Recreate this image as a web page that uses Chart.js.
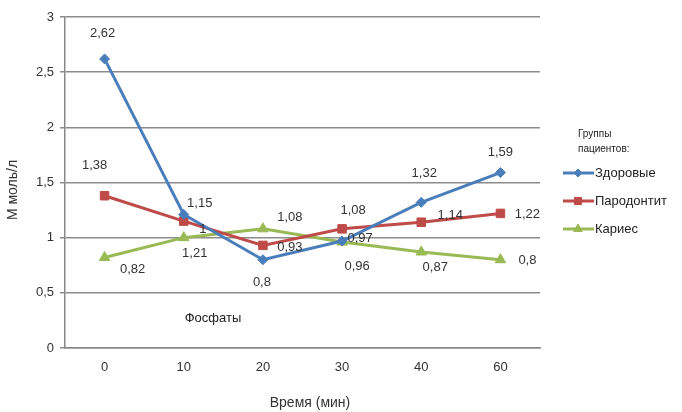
<!DOCTYPE html>
<html>
<head>
<meta charset="utf-8">
<script src="https://cdn.jsdelivr.net/npm/chart.js@4/dist/chart.umd.min.js"></script>
<style>
  html, body { margin: 0; padding: 0; background: #fff; }
  #wrap { width: 682px; height: 412px; position: relative; }
</style>
</head>
<body>
<div id="wrap"><canvas id="c" width="682" height="412"></canvas></div>
<script>
// Time points (minutes)
const categories = ['0', '10', '20', '30', '40', '60'];
// Phosphate concentration, mmol/l, per patient group
const healthy = [2.62, 1.21, 0.8, 0.97, 1.32, 1.59];
const periodontitis = [1.38, 1.15, 0.93, 1.08, 1.14, 1.22];
const caries = [0.82, 1.0, 1.08, 0.96, 0.87, 0.8];
const seriesNames = ['Здоровые', 'Пародонтит', 'Кариес'];
const yTicks = [0, 0.5, 1, 1.5, 2, 2.5, 3];

const FONT = '"Liberation Sans", Arial, sans-serif';
const fmt = v => String(v).replace('.', ',');

// where each value label sits relative to its point (px)
const labelOffsets = [
  [[-2, -26], [11, 39], [-1, 23], [18, -3], [3, -29], [0, -20]],
  [[-10, -30], [16, -18], [27, 2], [11, -18], [29, -7], [27, 1]],
  [[28, 12], [19, -8], [27, -11], [15, 24], [14, 15], [27, 1]]
];

const colors = ['#4a7ebb', '#be4b48', '#98b954'];
const styles = ['rectRot', 'rect', 'triangle'];
const radii = [5, 6, 6];

const datasets = [healthy, periodontitis, caries].map((d, i) => ({
  label: seriesNames[i],
  data: d,
  borderColor: colors[i],
  backgroundColor: colors[i],
  borderWidth: 3,
  pointStyle: styles[i],
  pointRadius: radii[i],
  pointHoverRadius: radii[i],
  pointBorderWidth: 1,
  tension: 0
}));

const valueLabels = {
  id: 'valueLabels',
  afterDatasetsDraw(chart) {
    const ctx = chart.ctx;
    ctx.save();
    ctx.font = '13px ' + FONT;
    ctx.fillStyle = '#333';
    ctx.textAlign = 'center';
    ctx.textBaseline = 'middle';
    chart.data.datasets.forEach((ds, i) => {
      chart.getDatasetMeta(i).data.forEach((pt, j) => {
        const o = labelOffsets[i][j];
        ctx.fillText(fmt(ds.data[j]), pt.x + o[0], pt.y + o[1]);
      });
    });
    // caption inside the plot
    ctx.fillStyle = '#222';
    ctx.fillText('Фосфаты', 213, 318);
    // axis titles
    ctx.fillStyle = '#333';
    ctx.font = '14px ' + FONT;
    ctx.fillText('Время (мин)', 310, 403);
    ctx.save();
    ctx.translate(13, 190);
    ctx.rotate(-Math.PI / 2);
    ctx.fillText('М моль/л', 0, 0);
    ctx.restore();
    ctx.restore();
  }
};

const sideLegend = {
  id: 'sideLegend',
  afterDraw(chart) {
    const ctx = chart.ctx;
    ctx.save();
    ctx.fillStyle = '#222';
    ctx.textAlign = 'left';
    ctx.textBaseline = 'middle';
    ctx.font = '10px ' + FONT;
    ctx.fillText('Группы', 578, 134);
    ctx.fillText('пациентов:', 578, 149);
    chart.data.datasets.forEach((ds, i) => {
      const y = 173 + i * 28;
      ctx.strokeStyle = ds.borderColor;
      ctx.lineWidth = 3;
      ctx.beginPath();
      ctx.moveTo(563, y);
      ctx.lineTo(594, y);
      ctx.stroke();
      ctx.fillStyle = ds.borderColor;
      ctx.lineWidth = 1;
      Chart.helpers.drawPoint(ctx, {
        pointStyle: ds.pointStyle, radius: ds.pointRadius - 1, borderWidth: 1
      }, 578, y);
      ctx.fillStyle = '#222';
      ctx.font = '13px ' + FONT;
      ctx.fillText(ds.label, 595, y);
    });
    ctx.restore();
  }
};

new Chart(document.getElementById('c'), {
  type: 'line',
  data: { labels: categories, datasets },
  options: {
    responsive: false,
    animation: false,
    layout: { padding: { left: 0, right: 142, top: 17, bottom: 0 } },
    plugins: { legend: { display: false }, tooltip: { enabled: false } },
    scales: {
      x: {
        offset: true,
        grid: { display: false, drawOnChartArea: false, offset: true, drawTicks: true, tickLength: 6, color: '#888' },
        border: { display: true, color: '#888', width: 1.5 },
        ticks: { color: '#333', font: { size: 13, family: FONT }, padding: 6 },
        afterFit(s) { s.height = 64; }
      },
      y: {
        min: 0, max: 3,
        afterBuildTicks(s) { s.ticks = yTicks.map(v => ({ value: v })); },
        grid: { color: '#8c8c8c', lineWidth: 1.5, drawTicks: true, tickLength: 5 },
        border: { display: true, color: '#888', width: 1.5 },
        ticks: { color: '#333', font: { size: 13, family: FONT }, padding: 6, callback: v => fmt(v) },
        afterFit(s) { s.width = 65; }
      }
    }
  },
  plugins: [valueLabels, sideLegend]
});
</script>
</body>
</html>
